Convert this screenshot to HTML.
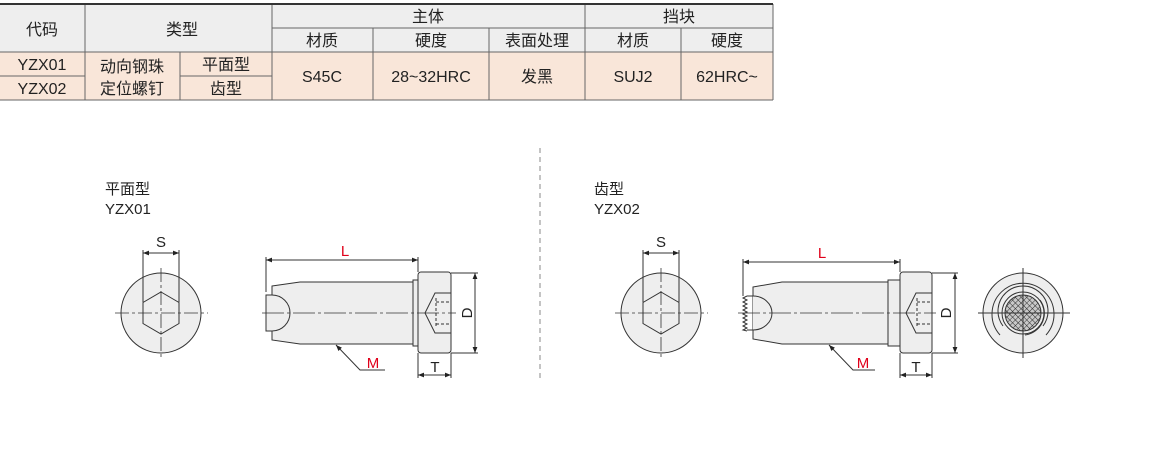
<!DOCTYPE html>
<html><head><meta charset="utf-8"><style>
html,body{margin:0;padding:0;background:#fff;}
body{width:1168px;height:474px;position:relative;overflow:hidden;font-family:"Liberation Sans","Noto Sans CJK SC",sans-serif;}
svg{position:absolute;left:0;top:0;}
</style></head><body>
<svg width="1168" height="474" viewBox="0 0 1168 474" font-family="Liberation Sans, Noto Sans CJK SC, sans-serif">
<defs>
<marker id="a" viewBox="0 0 10 10" refX="10" refY="5" markerWidth="9" markerHeight="6" orient="auto-start-reverse" markerUnits="userSpaceOnUse"><path d="M0,1 L10,5 L0,9 z" fill="#222"/></marker>
<pattern id="k" width="4" height="4" patternUnits="userSpaceOnUse" patternTransform="rotate(45)"><rect width="4" height="4" fill="#c8c8c8"/><path d="M0,0H4M0,0V4" stroke="#222" stroke-width="0.9"/></pattern>
</defs>
<!-- table -->
<rect x="0" y="4" width="773" height="48" fill="#eeeeee"/>
<rect x="0" y="52" width="773" height="48" fill="#f9e6d9"/>
<g stroke="#666" stroke-width="1" fill="none">
<line x1="272" y1="28" x2="773" y2="28"/>
<line x1="0" y1="52" x2="773" y2="52"/>
<line x1="0" y1="76" x2="85" y2="76"/><line x1="180" y1="76" x2="272" y2="76"/>
<line x1="85" y1="4" x2="85" y2="100"/><line x1="180" y1="52" x2="180" y2="100"/>
<line x1="272" y1="4" x2="272" y2="100"/><line x1="585" y1="4" x2="585" y2="100"/>
<line x1="373" y1="28" x2="373" y2="100"/><line x1="489" y1="28" x2="489" y2="100"/><line x1="681" y1="28" x2="681" y2="100"/>
<line x1="773" y1="4" x2="773" y2="100"/>
<line x1="0" y1="100" x2="773" y2="100"/>
</g>
<line x1="0" y1="4" x2="773" y2="4" stroke="#333" stroke-width="2"/>
<g font-size="16" fill="#222" text-anchor="middle">
<text x="42" y="35">代码</text><text x="182" y="35">类型</text>
<text x="428" y="22">主体</text><text x="679" y="22">挡块</text>
<text x="322" y="46">材质</text><text x="431" y="46">硬度</text><text x="537" y="46">表面处理</text><text x="633" y="46">材质</text><text x="727" y="46">硬度</text>
<text x="42" y="70">YZX01</text><text x="42" y="94">YZX02</text>
<text x="132" y="72">动向钢珠</text><text x="132" y="94">定位螺钉</text>
<text x="226" y="70">平面型</text><text x="226" y="94">齿型</text>
<text x="322" y="82">S45C</text><text x="431" y="82">28~32HRC</text><text x="537" y="82">发黑</text><text x="633" y="82">SUJ2</text><text x="727" y="82">62HRC~</text>
</g>
<!-- divider -->
<line x1="540" y1="148" x2="540" y2="380" stroke="#888" stroke-dasharray="5,4"/>
<g font-size="15" fill="#222">
<text x="105" y="194">平面型</text><text x="105" y="214">YZX01</text>
<text x="594" y="194">齿型</text><text x="594" y="214">YZX02</text>
</g>

<!-- LEFT drawing -->
<g stroke="#333" stroke-width="1" fill="none">
<circle cx="161" cy="313" r="40" fill="#eeeeee"/>
<polygon points="161,292 179,302.5 179,323.5 161,334 143,323.5 143,302.5"/>
<line x1="143" y1="250" x2="143" y2="302"/><line x1="179" y1="250" x2="179" y2="302"/>
<line x1="143" y1="253" x2="179" y2="253" marker-start="url(#a)" marker-end="url(#a)"/>
<g stroke-dasharray="14,3,3,3" stroke-width="0.8"><line x1="115" y1="313" x2="208" y2="313"/><line x1="161" y1="268" x2="161" y2="358"/></g>
<path d="M272,286 L300,282 L413,282 L413,344 L300,344 L272,340 Z" fill="#eeeeee"/>
<rect x="413" y="280" width="5" height="66" fill="#eeeeee"/>
<rect x="418" y="272" width="33" height="81" rx="3" fill="#eeeeee"/>
<path d="M266,295 L272,295 A18,18 0 0 1 272,331 L266,331 Z" fill="#eeeeee"/>
<path d="M451,293 L435,293 L425,313 L435,333 L451,333"/>
<path d="M436,298 V328 M436,302 H451 M436,324 H451" stroke-dasharray="3,2"/>
<line x1="266" y1="257" x2="266" y2="292"/><line x1="418" y1="257" x2="418" y2="272"/>
<line x1="266" y1="260" x2="418" y2="260" marker-start="url(#a)" marker-end="url(#a)"/>
<line x1="451" y1="273" x2="478" y2="273"/><line x1="451" y1="353" x2="478" y2="353"/>
<line x1="475" y1="273" x2="475" y2="353" marker-start="url(#a)" marker-end="url(#a)"/>
<line x1="418" y1="353" x2="418" y2="378"/><line x1="451" y1="353" x2="451" y2="378"/>
<line x1="418" y1="375" x2="451" y2="375" marker-start="url(#a)" marker-end="url(#a)"/>
<polyline points="385,370 360,370 336,345" marker-end="url(#a)"/>
<line x1="262" y1="313" x2="456" y2="313" stroke-dasharray="22,3,3,3" stroke-width="0.8"/>
</g>
<g font-size="15">
<text x="161" y="247" text-anchor="middle" fill="#222">S</text>
<text x="345" y="256" text-anchor="middle" fill="#e0001a">L</text>
<text x="373" y="368" text-anchor="middle" fill="#e0001a">M</text>
<text x="435" y="372" text-anchor="middle" fill="#222">T</text>
<text transform="translate(472,313) rotate(-90)" text-anchor="middle" fill="#222">D</text>
</g>

<!-- RIGHT drawing -->
<g stroke="#333" stroke-width="1" fill="none">
<circle cx="661" cy="313" r="40" fill="#eeeeee"/>
<polygon points="661,292 679,302.5 679,323.5 661,334 643,323.5 643,302.5"/>
<line x1="643" y1="250" x2="643" y2="302"/><line x1="679" y1="250" x2="679" y2="302"/>
<line x1="643" y1="253" x2="679" y2="253" marker-start="url(#a)" marker-end="url(#a)"/>
<g stroke-dasharray="14,3,3,3" stroke-width="0.8"><line x1="615" y1="313" x2="708" y2="313"/><line x1="661" y1="268" x2="661" y2="358"/></g>
<path d="M753,287 L782,282 L888,282 L888,344 L782,344 L753,339 Z" fill="#eeeeee"/>
<rect x="888" y="280" width="12" height="66" fill="#eeeeee"/>
<rect x="900" y="272" width="32" height="81" rx="3" fill="#eeeeee"/>
<path d="M753,296 A19,17 0 0 1 753,330 M747,296 L753,296 M747,330 L753,330" fill="#eeeeee"/>
<path d="M747,296 l-4,2 4,2 -4,2 4,2 -4,2 4,2 -4,2 4,2 -4,2 4,2 -4,2 4,2 -4,2 4,2 -4,2 4,2 -4,2 4,1" />
<path d="M932,293 L916,293 L906,313 L916,333 L932,333"/>
<path d="M917,298 V328 M917,302 H932 M917,324 H932" stroke-dasharray="3,2"/>
<line x1="743" y1="259" x2="743" y2="296"/><line x1="900" y1="259" x2="900" y2="272"/>
<line x1="743" y1="262" x2="900" y2="262" marker-start="url(#a)" marker-end="url(#a)"/>
<line x1="932" y1="273" x2="958" y2="273"/><line x1="932" y1="353" x2="958" y2="353"/>
<line x1="955" y1="273" x2="955" y2="353" marker-start="url(#a)" marker-end="url(#a)"/>
<line x1="900" y1="353" x2="900" y2="378"/><line x1="932" y1="353" x2="932" y2="378"/>
<line x1="900" y1="375" x2="932" y2="375" marker-start="url(#a)" marker-end="url(#a)"/>
<polyline points="875,370 853,370 829,345" marker-end="url(#a)"/>
<line x1="738" y1="313" x2="936" y2="313" stroke-dasharray="22,3,3,3" stroke-width="0.8"/>
<!-- end view -->
<circle cx="1023" cy="313" r="40" fill="#eeeeee"/>
<path d="M1000,335 A31,31 0 1 1 1046,335"/>
<path d="M1003,326 A25,25 0 1 1 1043,326"/>
<path d="M1040,300 A22,22 0 0 1 1025,335"/>
<circle cx="1023" cy="313" r="21"/>
<circle cx="1023" cy="313" r="18" fill="url(#k)"/>
<line x1="978" y1="313" x2="1070" y2="313"/><line x1="1023" y1="268" x2="1023" y2="358"/>
</g>
<g font-size="15">
<text x="661" y="247" text-anchor="middle" fill="#222">S</text>
<text x="822" y="258" text-anchor="middle" fill="#e0001a">L</text>
<text x="863" y="368" text-anchor="middle" fill="#e0001a">M</text>
<text x="916" y="372" text-anchor="middle" fill="#222">T</text>
<text transform="translate(951,313) rotate(-90)" text-anchor="middle" fill="#222">D</text>
</g>
</svg>
</body></html>
